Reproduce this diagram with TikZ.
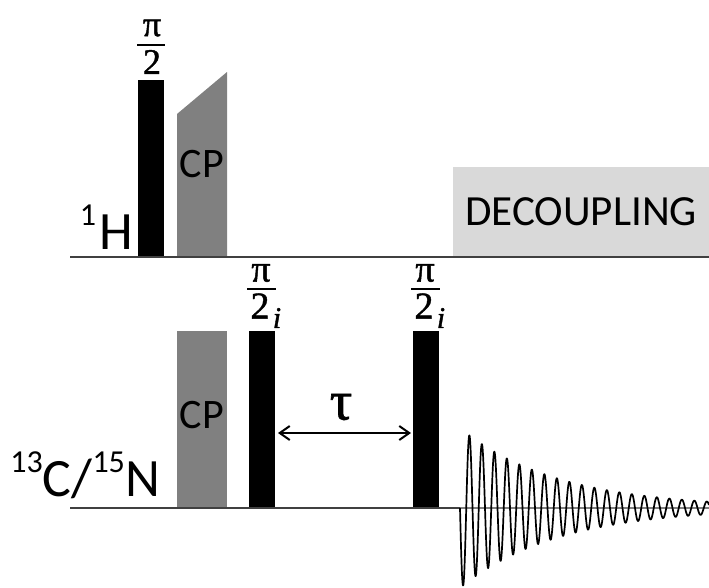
\documentclass[tikz,border=0pt]{standalone}
\usepackage{fontspec}
\setmainfont{Carlito}
\newfontfamily\grk[FakeBold=1.2]{Liberation Serif}
\usetikzlibrary{arrows.meta}
\definecolor{cpgray}{HTML}{808080}
\definecolor{decgray}{HTML}{D9D9D9}
\definecolor{basec}{HTML}{404040}
\newcommand{\supnum}[1]{\raisebox{24pt}{\fontsize{32}{34}\selectfont #1}}
\begin{document}
\begin{tikzpicture}[x=1pt,y=-1pt,
  pulse/.style={fill=black, inner sep=0, outer sep=0, minimum width=26pt, anchor=south west},
  cpbox/.style={fill=cpgray, inner sep=0, outer sep=0, minimum width=50pt, anchor=south west},
  lab/.style={inner sep=0, font=\fontsize{42}{48}\selectfont},
  nuc/.style={inner sep=0, font=\fontsize{54}{60}\selectfont},
  frac/.style={inner sep=0, font=\grk\fontsize{36}{40}\selectfont},
  fracb/.style={inner sep=0, font=\grk\fontsize{38}{42}\selectfont},
  sub/.style={inner sep=0, font=\grk\itshape\fontsize{30}{34}\selectfont},
  fracbar/.style={line width=2.7pt},
  base/.style={line width=1.5pt, draw=basec},
  tauarrow/.style={line width=2pt, {Straight Barb[length=10pt,width=14pt]}-{Straight Barb[length=10pt,width=14pt]}},
  fid/.style={line width=1.7pt, line join=round}
]
\useasboundingbox (0,0) rectangle (709,587);
% decoupling box
\node[fill=decgray, inner sep=0, minimum width=256pt, minimum height=90pt, anchor=south west,
      font=\fontsize{43}{50}\selectfont] (dec) at (453,257) {DECOUPLING};
% 1H channel
\fill[cpgray] (177,257) -- (177,114) -- (227,72) -- (227,257) -- cycle;
\node[lab] (cp1) at (202,164) {CP};
\node[pulse, minimum height=177pt] (p1) at (138,257) {};
\node[frac] (pi1) at (152,28) {π};
\draw[fracbar] (137,45) -- (165,45);
\node[frac] (two1) at (152,62) {2};
\node[nuc, anchor=base east] (h) at (133,249) {\supnum{1}\kern3pt H};
\draw[base] (70,257) -- (709,257);
% 13C/15N channel
\node[cpbox, minimum height=177pt] (cp2) at (177,508) {};
\node[lab] (cp2t) at (202,415) {CP};
\node[pulse, minimum height=177pt] (p2) at (249,508) {};
\node[pulse, minimum height=177pt] (p3) at (413,508) {};
\node[fracb] (pi2) at (261,273) {π};
\draw[fracbar] (247,289) -- (276,289);
\node[fracb] (two2) at (260,306) {2};
\node[sub] (i2) at (277,318) {i};
\node[fracb] (pi3) at (425,273) {π};
\draw[fracbar] (411,289) -- (440,289);
\node[fracb] (two3) at (424,306) {2};
\node[sub] (i3) at (441,318) {i};
\draw[tauarrow, shorten <=3pt, shorten >=2pt] (p2.east |- 0,433) -- (p3.west |- 0,433);
\node[inner sep=0, font=\grk\fontsize{56}{60}\selectfont] (tau) at (341,407) {τ};
\node[nuc, anchor=base east] (cn) at (161,496) {\supnum{13}C/\supnum{15}\kern1pt N};
\draw[base] (70,508) -- (460,508);
\draw[line width=1.5pt, draw=gray] (460,508) -- (709,508);
\coordinate (fid0) at (460,508);
\draw[fid] plot[domain=0:249, samples=1000] ({460+\x},{508+80*exp(-\x/98)*sin(28.8*\x)});
\end{tikzpicture}
\end{document}
